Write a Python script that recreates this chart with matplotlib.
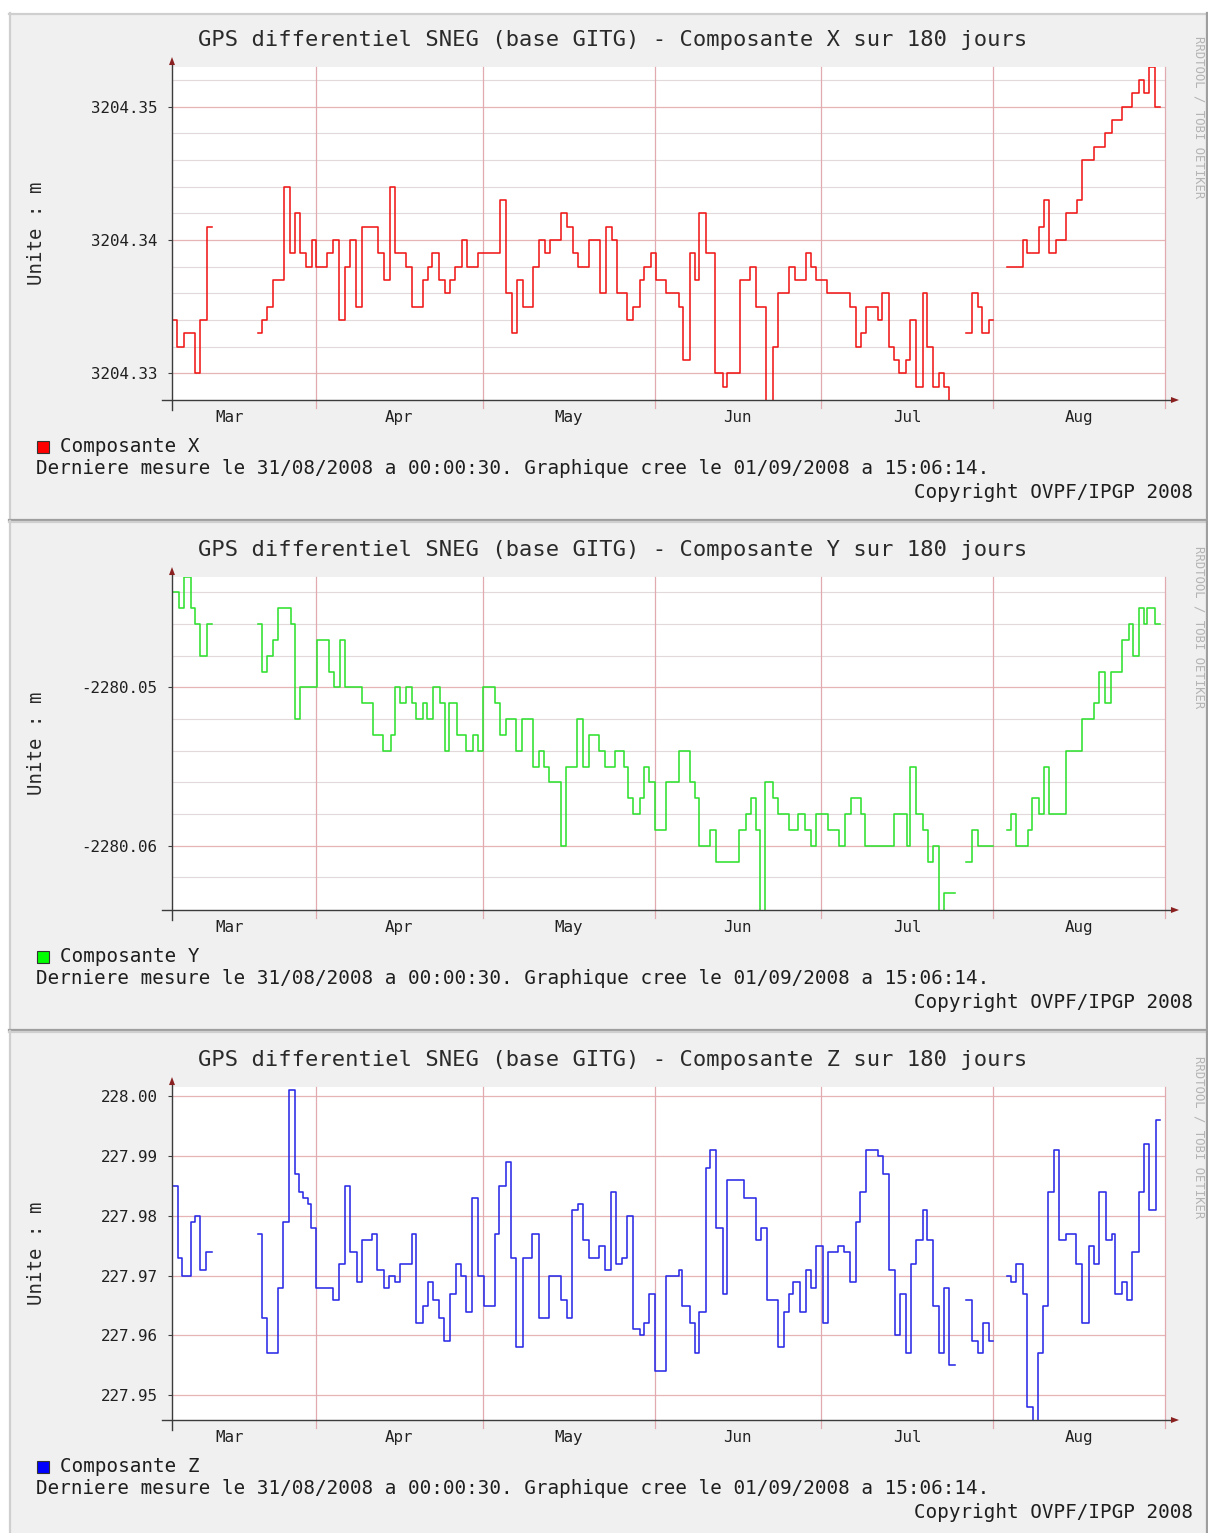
import numpy as np
import matplotlib
matplotlib.use("Agg")
import matplotlib.pyplot as plt
import matplotlib.dates as mdates
from matplotlib.patches import Rectangle, Polygon
from datetime import datetime

plt.rcParams['font.family'] = ['DejaVu Sans Mono', 'DejaVu Sans']

W, H = 1208, 1533
START = datetime(2008, 3, 6, 1, 12)
SPAN_DAYS = 179.1
END_DAY = 177.98

month_names = ["Mar", "Apr", "May", "Jun", "Jul", "Aug"]
components = ["X", "Y", "Z"]

nan = float('nan')

# ---- Composante X : day offset (from START) where each level begins, and the level
x_days = [0, 0.99, 2.08, 4.16, 5.10, 6.34, 7.14, 15.56, 16.15, 17.05, 18.23, 20.12, 21.31,
          22.20, 22.99, 24.08, 25.17, 25.87, 27.95, 28.94, 30.13, 31.22, 32.11, 33.20, 34.29,
          37.06, 38.15, 39.24, 40.23, 42.12, 43.21, 45.19, 46.18, 46.87, 48.16, 49.25, 50.14,
          51.04, 52.23, 53.12, 55.10, 59.06, 60.15, 61.34, 62.14, 63.23, 65.01, 66.10, 67.19,
          68.18, 70.06, 71.15, 72.34, 73.23, 75.22, 77.10, 78.19, 79.28, 80.27, 82.05, 83.14,
          84.24, 85.13, 86.22, 87.21, 89.09, 91.27, 92.16, 93.25, 94.24, 95.04, 96.23, 97.91,
          99.20, 100.09, 102.27, 104.06, 105.24, 107.03, 108.22, 109.11, 111.19, 112.18,
          114.16, 115.15, 116.05, 118.03, 122.09, 123.28, 124.07, 125.06, 127.15, 127.94,
          129.23, 130.12, 131.01, 132.20, 132.99, 133.98, 135.27, 136.06, 137.06, 138.24,
          139.04, 139.93, 140.42, 143.10, 144.19, 145.18, 145.97, 147.16, 147.96, 150.43,
          153.31, 154.00, 156.18, 157.07, 157.97, 159.25, 161.04, 163.12, 164.01, 166.09,
          168.17, 169.36, 171.24, 173.03, 174.22, 175.11, 176.00, 177.19]
x_vals = [3204.334, 3204.332, 3204.333, 3204.330, 3204.334, 3204.341, nan,
          3204.333, 3204.334, 3204.335, 3204.337, 3204.344, 3204.339, 3204.342, 3204.339,
          3204.338, 3204.340, 3204.338, 3204.339, 3204.340, 3204.334, 3204.338, 3204.340,
          3204.335, 3204.341, 3204.339, 3204.337, 3204.344, 3204.339, 3204.338, 3204.335,
          3204.337, 3204.338, 3204.339, 3204.337, 3204.336, 3204.337, 3204.338, 3204.340,
          3204.338, 3204.339, 3204.343, 3204.336, 3204.333, 3204.337, 3204.335, 3204.338,
          3204.340, 3204.339, 3204.340, 3204.342, 3204.341, 3204.339, 3204.338, 3204.340,
          3204.336, 3204.341, 3204.340, 3204.336, 3204.334, 3204.335, 3204.337, 3204.338,
          3204.339, 3204.337, 3204.336, 3204.335, 3204.331, 3204.339, 3204.337, 3204.342,
          3204.339, 3204.330, 3204.329, 3204.330, 3204.337, 3204.338, 3204.335, 3204.327,
          3204.332, 3204.336, 3204.338, 3204.337, 3204.339, 3204.338, 3204.337, 3204.336,
          3204.335, 3204.332, 3204.333, 3204.335, 3204.334, 3204.336, 3204.332, 3204.331,
          3204.330, 3204.331, 3204.334, 3204.329, 3204.336, 3204.332, 3204.329, 3204.330,
          3204.329, 3204.327, nan, 3204.333, 3204.336, 3204.335, 3204.333, 3204.334, nan,
          3204.338, 3204.340, 3204.339, 3204.341, 3204.343, 3204.339, 3204.340, 3204.342,
          3204.343, 3204.346, 3204.347, 3204.348, 3204.349, 3204.350, 3204.351, 3204.352,
          3204.351, 3204.353, 3204.350]

# ---- Composante Y
y_days = [0, 1.29, 2.08, 3.37, 4.16, 5.10, 6.34, 7.14, 15.46, 16.25, 17.05, 18.14, 19.13,
          21.41, 22.20, 23.09, 26.06, 28.24, 29.23, 30.23, 31.22, 34.19, 36.17, 37.96, 39.44,
          40.23, 41.13, 42.12, 43.21, 44.00, 45.19, 45.98, 47.07, 48.36, 49.25, 49.95, 51.43,
          53.02, 54.21, 55.10, 55.99, 58.27, 59.06, 60.15, 61.94, 63.13, 65.01, 66.20, 66.99,
          67.98, 70.16, 70.96, 73.04, 74.03, 75.12, 76.90, 78.09, 79.87, 81.46, 82.25, 83.05,
          84.24, 85.03, 85.92, 87.11, 88.99, 91.27, 93.25, 94.15, 95.04, 97.02, 98.01, 102.17,
          103.36, 104.25, 105.24, 105.94, 106.93, 108.22, 109.11, 111.19, 112.78, 113.97,
          115.15, 115.95, 118.13, 120.11, 121.20, 122.29, 124.07, 124.87, 130.12, 132.40,
          132.99, 134.08, 135.27, 136.16, 137.06, 138.24, 139.14, 141.02, 143.10, 144.19,
          145.18, 147.96, 150.53, 151.23, 152.12, 154.30, 154.99, 156.28, 157.07, 158.06,
          161.04, 164.01, 166.09, 166.98, 168.17, 169.16, 171.24, 172.43, 173.23, 174.22,
          175.11, 175.70, 177.09]
y_vals = [-2280.044, -2280.045, -2280.043, -2280.045, -2280.046, -2280.048, -2280.046, nan,
          -2280.046, -2280.049, -2280.048, -2280.047, -2280.045, -2280.046, -2280.052,
          -2280.050, -2280.047, -2280.049, -2280.050, -2280.047, -2280.050, -2280.051,
          -2280.053, -2280.054, -2280.053, -2280.050, -2280.051, -2280.050, -2280.051,
          -2280.052, -2280.051, -2280.052, -2280.050, -2280.051, -2280.054, -2280.051,
          -2280.053, -2280.054, -2280.053, -2280.054, -2280.050, -2280.051, -2280.053,
          -2280.052, -2280.054, -2280.052, -2280.055, -2280.054, -2280.055, -2280.056,
          -2280.060, -2280.055, -2280.052, -2280.055, -2280.053, -2280.054, -2280.055,
          -2280.054, -2280.055, -2280.057, -2280.058, -2280.057, -2280.055, -2280.056,
          -2280.059, -2280.056, -2280.054, -2280.056, -2280.057, -2280.060, -2280.059,
          -2280.061, -2280.059, -2280.058, -2280.057, -2280.059, -2280.065, -2280.056,
          -2280.057, -2280.058, -2280.059, -2280.058, -2280.059, -2280.060, -2280.058,
          -2280.059, -2280.060, -2280.058, -2280.057, -2280.058, -2280.060, -2280.058,
          -2280.060, -2280.055, -2280.058, -2280.059, -2280.061, -2280.060, -2280.065,
          -2280.063, nan, -2280.061, -2280.059, -2280.060, nan, -2280.059, -2280.058,
          -2280.060, -2280.059, -2280.057, -2280.058, -2280.055, -2280.058, -2280.054,
          -2280.052, -2280.051, -2280.049, -2280.051, -2280.049, -2280.047, -2280.046,
          -2280.048, -2280.045, -2280.046, -2280.045, -2280.046]

# ---- Composante Z
z_days = [0, 1.14, 1.88, 3.37, 4.16, 4.96, 6.14, 7.14, 15.46, 16.15, 17.14, 19.13, 19.92,
          21.11, 22.20, 22.89, 23.59, 24.48, 25.07, 25.87, 28.94, 30.13, 31.22, 32.11, 33.30,
          34.19, 36.07, 36.96, 38.15, 39.14, 40.14, 41.03, 43.21, 44.00, 45.19, 46.18, 46.97,
          48.06, 49.05, 50.05, 51.14, 52.03, 52.92, 54.11, 55.20, 56.19, 58.17, 58.96, 60.15,
          61.05, 61.94, 63.23, 64.91, 66.10, 67.88, 70.16, 71.15, 72.14, 73.14, 74.03, 75.22,
          77.00, 78.09, 79.18, 79.97, 81.16, 82.05, 83.05, 84.24, 85.13, 86.02, 87.11, 88.99,
          91.27, 91.96, 93.25, 94.15, 95.04, 96.13, 97.02, 98.01, 99.20, 100.09, 103.06,
          105.24, 106.04, 107.13, 109.11, 110.20, 111.19, 111.98, 113.07, 114.26, 115.15,
          116.05, 117.24, 118.13, 120.01, 121.10, 122.09, 123.18, 123.97, 124.97, 127.15,
          128.04, 129.23, 130.22, 131.11, 132.20, 133.09, 133.98, 135.27, 136.06, 137.06,
          138.24, 139.14, 140.03, 141.02, 143.10, 144.19, 145.18, 146.07, 147.26, 147.96,
          150.43, 151.23, 152.02, 153.31, 154.10, 155.09, 155.98, 156.88, 157.77, 158.96,
          159.85, 161.04, 162.92, 164.01, 165.30, 166.09, 167.08, 168.27, 169.36, 169.96,
          171.24, 172.14, 173.03, 174.22, 175.11, 176.00, 177.29]
z_vals = [227.985, 227.973, 227.970, 227.979, 227.980, 227.971, 227.974, nan,
          227.977, 227.963, 227.957, 227.968, 227.979, 228.001, 227.987, 227.984, 227.983,
          227.982, 227.978, 227.968, 227.966, 227.972, 227.985, 227.974, 227.969, 227.976,
          227.977, 227.971, 227.968, 227.970, 227.969, 227.972, 227.977, 227.962, 227.965,
          227.969, 227.966, 227.963, 227.959, 227.967, 227.972, 227.970, 227.964, 227.983,
          227.970, 227.965, 227.977, 227.985, 227.989, 227.973, 227.958, 227.973, 227.977,
          227.963, 227.970, 227.966, 227.963, 227.981, 227.982, 227.976, 227.973, 227.975,
          227.971, 227.984, 227.972, 227.973, 227.980, 227.961, 227.960, 227.962, 227.967,
          227.954, 227.970, 227.971, 227.965, 227.962, 227.957, 227.964, 227.988, 227.991,
          227.978, 227.967, 227.986, 227.983, 227.976, 227.978, 227.966, 227.958, 227.964,
          227.967, 227.969, 227.964, 227.971, 227.968, 227.975, 227.962, 227.974, 227.975,
          227.974, 227.969, 227.979, 227.984, 227.991, 227.990, 227.987, 227.971, 227.960,
          227.967, 227.957, 227.972, 227.976, 227.981, 227.976, 227.965, 227.957, 227.968,
          227.955, nan, 227.966, 227.959, 227.957, 227.962, 227.959, nan, 227.970, 227.969,
          227.972, 227.967, 227.948, 227.945, 227.957, 227.965, 227.984, 227.991, 227.976,
          227.977, 227.972, 227.962, 227.975, 227.972, 227.984, 227.976, 227.977, 227.967,
          227.969, 227.966, 227.974, 227.984, 227.992, 227.981, 227.996]

series_days = [x_days, y_days, z_days]
series_vals = [x_vals, y_vals, z_vals]
series_colors = ["#F01818", "#30E030", "#2A2AE6"]
legend_colors = ["#FF0000", "#00FF00", "#0000FF"]

y_limits = [(3204.3280, 3204.3530), (-2280.06406, -2280.04301), (227.94588, 228.00155)]
y_major = [[3204.33, 3204.34, 3204.35],
           [-2280.06, -2280.05],
           [227.95, 227.96, 227.97, 227.98, 227.99, 228.00]]
y_minor = [list(np.round(np.arange(3204.330, 3204.3521, 0.002), 3)),
           list(np.round(np.arange(-2280.062, -2280.0439, 0.002), 3)),
           []]
y_fmt = ["%.2f", "%.2f", "%.2f"]

title_tpl = "GPS differentiel SNEG (base GITG) - Composante {} sur 180 jours"
comment = "Derniere mesure le 31/08/2008 a 00:00:30. Graphique cree le 01/09/2008 a 15:06:14."
copyright_txt = "Copyright OVPF/IPGP 2008"
ylabel_txt = "Unite : m"
watermark = "RRDTOOL / TOBI OETIKER"

fig = plt.figure(figsize=(W / 100, H / 100), dpi=100)
fig.patch.set_facecolor("white")

bg = fig.add_axes([0, 0, 1, 1], zorder=0)
bg.set_xlim(0, W)
bg.set_ylim(H, 0)
bg.axis("off")

t0 = mdates.date2num(START)
month_starts = [mdates.date2num(datetime(2008, m, 1)) for m in range(3, 10)]
month_mids = [(month_starts[i] + month_starts[i + 1]) / 2 for i in range(6)]

PERIOD = 510
tops = [13, 521, 1031]
bottoms = [520, 1030, 1540]
txt_col = "#1E1E1E"
AX_LEFT, AX_WIDTH = 172, 994

for k in range(3):
    off = PERIOD * k
    top, bot = tops[k], bottoms[k]
    bg.add_patch(Rectangle((9, top), W - 9, bot - top, facecolor="#F0F0F0", edgecolor="none"))
    bg.plot([9, W], [top + 0.5, top + 0.5], color="#CFCFCF", lw=1.6)
    bg.plot([9.5, 9.5], [top, bot], color="#CFCFCF", lw=1.6)
    bg.plot([9, W], [bot - 0.5, bot - 0.5], color="#9E9E9E", lw=1.6)
    bg.plot([W - 1, W - 1], [top, bot], color="#9E9E9E", lw=1.6)

    bg.text(613, 40 + off, title_tpl.format(components[k]), ha="center", va="center",
            fontsize=15.9, color="#2A2A2A")
    bg.text(36, 233 + off, ylabel_txt, rotation=90, ha="center", va="center",
            fontsize=13.7, color="#2A2A2A")
    bg.add_patch(Rectangle((37, 441 + off), 12, 12, facecolor=legend_colors[k],
                           edgecolor="#333333", lw=0.8))
    bg.text(60, 446 + off, "Composante " + components[k], ha="left", va="center",
            fontsize=13.9, color=txt_col)
    bg.text(36, 469 + off, comment, ha="left", va="center", fontsize=13.9, color=txt_col)
    bg.text(1193, 493 + off, copyright_txt, ha="right", va="center", fontsize=13.9,
            color=txt_col)
    bg.text(1199, 117 + off, watermark, rotation=270, ha="center", va="center",
            fontsize=8.8, color="#B4B4B4")

    ax_top, ax_bot = 66.7 + off, 400 + off
    ax = fig.add_axes([AX_LEFT / W, 1 - ax_bot / H, AX_WIDTH / W, (ax_bot - ax_top) / H],
                      zorder=2)
    ax.set_facecolor("white")
    ax.set_xlim(t0, t0 + SPAN_DAYS)
    ax.set_ylim(*y_limits[k])
    for s in ax.spines.values():
        s.set_visible(False)

    for v in y_minor[k]:
        if v not in y_major[k]:
            ax.axhline(v, color="#E2DADA", lw=0.8, zorder=1)
    for v in y_major[k]:
        ax.axhline(v, color="#E6B4B4", lw=0.9, zorder=1.2)
    for ms in month_starts[1:]:
        ax.axvline(ms, ymin=-0.025, ymax=1.0, color="#E0AAB0", lw=0.9, zorder=1.2,
                   clip_on=False)

    ax.set_yticks(y_major[k])
    ax.set_yticklabels([y_fmt[k] % v for v in y_major[k]])
    ax.tick_params(axis="y", length=3, width=0.8, color="#404040", pad=7.5,
                   labelsize=11.4, labelcolor="#202020")
    ax.set_xticks(month_mids)
    ax.set_xticklabels(month_names)
    ax.tick_params(axis="x", length=0, pad=7, labelsize=11.4, labelcolor="#202020")

    d = np.asarray(series_days[k], float)
    vv = np.asarray(series_vals[k], float)
    n = min(len(d), len(vv))
    d, vv = d[:n], vv[:n]
    d = np.append(d, END_DAY)
    vv = np.append(vv, vv[-1])
    ax.plot(t0 + d, vv, drawstyle="steps-post", color=series_colors[k], lw=1.15, zorder=3)

    ax.plot([-0.01, 1.006], [0, 0], transform=ax.transAxes, color="#3C3C3C", lw=1.0,
            clip_on=False, zorder=4)
    ax.plot([0, 0], [-0.03, 1.01], transform=ax.transAxes, color="#3C3C3C", lw=1.0,
            clip_on=False, zorder=4)
    ax.add_patch(Polygon([[1.0050, -0.009], [1.0050, 0.009], [1.0131, 0]], closed=True,
                         transform=ax.transAxes, facecolor="#8A2020", edgecolor="none",
                         clip_on=False, zorder=5))
    ax.add_patch(Polygon([[-0.003, 1.005], [0.003, 1.005], [0, 1.029]], closed=True,
                         transform=ax.transAxes, facecolor="#8A2020", edgecolor="none",
                         clip_on=False, zorder=5))

fig.savefig("out.png", dpi=100, facecolor=fig.get_facecolor())
